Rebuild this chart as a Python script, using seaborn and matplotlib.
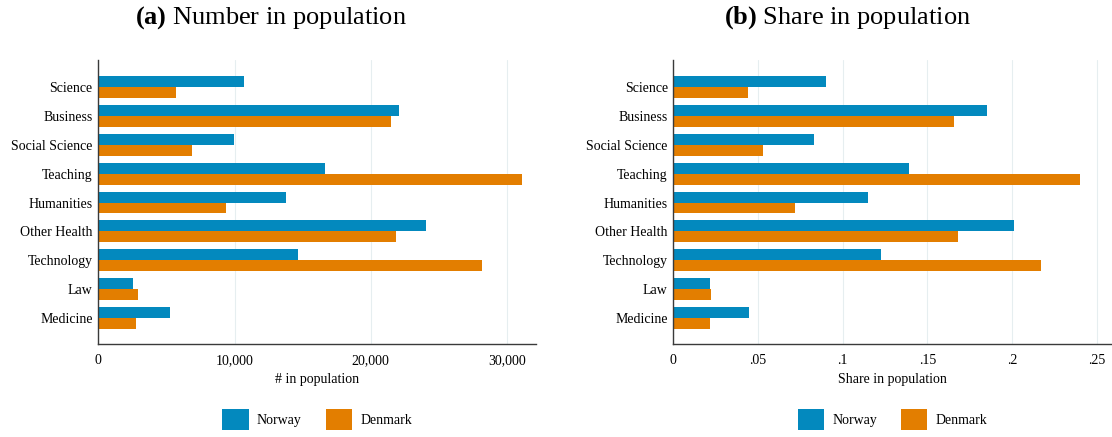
import pandas as pd
import matplotlib.pyplot as plt
import seaborn as sns

fields = ["Science", "Business", "Social Science", "Teaching", "Humanities",
          "Other Health", "Technology", "Law", "Medicine"]
countries = ["Norway", "Denmark"]

norway_number = [10700, 22100, 9950, 16650, 13750, 24050, 14650, 2550, 5300]
denmark_number = [5700, 21500, 6850, 31100, 9350, 21850, 28150, 2900, 2750]
norway_share = [0.090, 0.185, 0.083, 0.139, 0.115, 0.2015, 0.1225, 0.0215, 0.0445]
denmark_share = [0.044, 0.1655, 0.053, 0.240, 0.072, 0.168, 0.217, 0.022, 0.0215]

number_ticks = [0, 10000, 20000, 30000]
number_labels = ["0", "10,000", "20,000", "30,000"]
share_ticks = [0, 0.05, 0.1, 0.15, 0.2, 0.25]
share_labels = ["0", ".05", ".1", ".15", ".2", ".25"]

colors = {"Norway": "#0389BE", "Denmark": "#E37E00"}

sns.set_style("white")
plt.rcParams["font.family"] = ["Liberation Serif", "DejaVu Serif"]
plt.rcParams["text.color"] = "black"
plt.rcParams["axes.labelcolor"] = "black"
plt.rcParams["xtick.color"] = "black"
plt.rcParams["ytick.color"] = "black"
plt.rcParams["mathtext.fontset"] = "custom"
plt.rcParams["mathtext.rm"] = "Liberation Serif"
plt.rcParams["mathtext.bf"] = "Liberation Serif:bold"

number_df = pd.DataFrame({
    "field": fields * 2,
    "country": ["Norway"] * len(fields) + ["Denmark"] * len(fields),
    "value": norway_number + denmark_number,
})
share_df = pd.DataFrame({
    "field": fields * 2,
    "country": ["Norway"] * len(fields) + ["Denmark"] * len(fields),
    "value": norway_share + denmark_share,
})

fig = plt.figure(figsize=(11.12, 4.37), dpi=100)
ax1 = fig.add_axes([0.0884, 0.2121, 0.3936, 0.6506])
ax2 = fig.add_axes([0.6055, 0.2121, 0.3942, 0.6506])

panels = [
    (ax1, number_df, number_ticks, number_labels, 32130, "# in population"),
    (ax2, share_df, share_ticks, share_labels, 0.2589, "Share in population"),
]
for ax, df, ticks, labels, xmax, xlabel in panels:
    sns.barplot(data=df, y="field", x="value", hue="country", order=fields,
                hue_order=countries, palette=colors, orient="h", width=0.76,
                gap=0, saturation=1, linewidth=0, ax=ax)
    ax.get_legend().remove()
    ax.set_xlim(0, xmax)
    ax.set_ylim(8.91, -0.934)
    ax.set_xticks(ticks, labels)
    ax.set_xlabel(xlabel, fontsize=10, labelpad=4)
    ax.set_ylabel("")
    ax.grid(axis="x", color="#e6eef0", linewidth=0.8)
    ax.set_axisbelow(True)
    for side in ["top", "right"]:
        ax.spines[side].set_visible(False)
    for side in ["left", "bottom"]:
        ax.spines[side].set_color("#3a3a3a")
        ax.spines[side].set_linewidth(1.0)
    ax.tick_params(axis="x", length=4, width=0.9, color="#3a3a3a", labelsize=10, pad=3)
    ax.tick_params(axis="y", length=0, labelsize=10, pad=4)

    handles, names = ax.get_legend_handles_labels()
    cx = (ax.get_position().x0 + ax.get_position().x1) / 2
    fig.legend(handles, names, loc="center", bbox_to_anchor=(cx, 0.04), ncol=2,
               frameon=False, fontsize=10, handlelength=1.9, handleheight=1.9,
               handletextpad=0.6, columnspacing=1.7)

fig.text(271 / 1112, 0.96, r"$\mathbf{(a)}$ Number in population", ha="center",
         va="center", fontsize=19)
fig.text(847 / 1112, 0.96, r"$\mathbf{(b)}$ Share in population", ha="center",
         va="center", fontsize=19)

fig.savefig("out.png", dpi=100)
